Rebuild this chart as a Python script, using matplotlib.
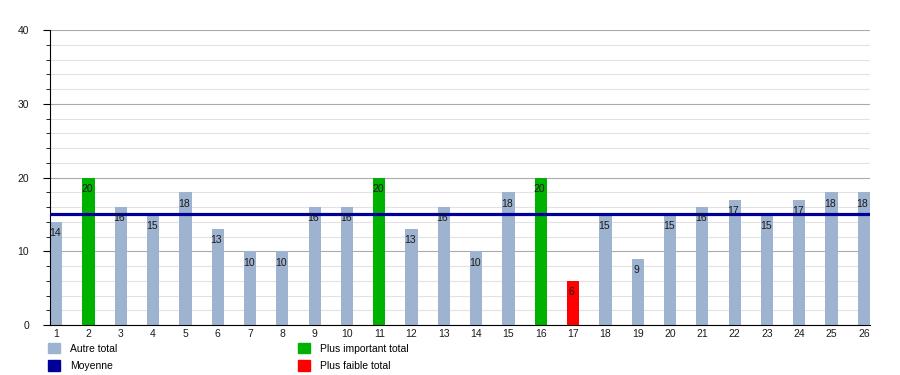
import matplotlib.pyplot as plt
from matplotlib.patches import Patch
from matplotlib.ticker import MultipleLocator

plt.rcParams['font.family'] = ['Liberation Sans', 'DejaVu Sans']

# valeurs par numéro
numeros = list(range(1, 27))
totaux = [14, 20, 16, 15, 18, 13, 10, 10, 16, 16, 20, 13, 16, 10, 18, 20, 6,
          15, 9, 15, 16, 17, 15, 17, 18, 18]
moyenne = sum(totaux) / len(totaux)

GRIS = "#9db3cf"
VERT = "#00b200"
ROUGE = "#ff0000"
BLEU = "#000099"

maxi = max(totaux)
mini = min(totaux)
couleurs = []
for v in totaux:
    if v == maxi:
        couleurs.append(VERT)
    elif v == mini:
        couleurs.append(ROUGE)
    else:
        couleurs.append(GRIS)

fig = plt.figure(figsize=(9, 3.75), dpi=100)
ax = fig.add_axes([0.0556, 0.1333, 0.9111, 0.7867])

ax.bar(numeros, totaux, width=0.38, color=couleurs, zorder=2)
ax.axhline(moyenne, color=BLEU, lw=2.3, zorder=3)

for x, v in zip(numeros, totaux):
    ax.annotate(str(v), (x, v), xytext=(-1, -4.5), textcoords="offset points",
                ha="center", va="top", fontsize=7.5, color="#1a1a1a", zorder=4)

ax.set_xlim(0.81, 26.19)
ax.set_ylim(0, 40)
ax.set_xticks(numeros)
ax.yaxis.set_major_locator(MultipleLocator(10))
ax.yaxis.set_minor_locator(MultipleLocator(2))
ax.grid(axis="y", which="major", color="#aaaaaa", lw=0.8, zorder=0)
ax.grid(axis="y", which="minor", color="#e2e2e2", lw=0.8, zorder=0)
ax.tick_params(axis="x", length=0, labelsize=7.5, pad=3, labelcolor="#1a1a1a")
ax.tick_params(axis="y", which="major", length=5, labelsize=7.5, pad=10,
               labelcolor="#1a1a1a")
ax.tick_params(axis="y", which="minor", length=3)
for s in ["top", "right"]:
    ax.spines[s].set_visible(False)
ax.spines["left"].set_color("black")
ax.spines["bottom"].set_color("black")

handles = [Patch(color=GRIS, label="Autre total"),
           Patch(color=BLEU, label="Moyenne"),
           Patch(color=VERT, label="Plus important total"),
           Patch(color=ROUGE, label="Plus faible total")]
fig.legend(handles=handles, ncol=2, loc="upper left", bbox_to_anchor=(0.053, 0.086),
           frameon=False, fontsize=7.5, handlelength=1.2, handleheight=1.2,
           handletextpad=0.95, columnspacing=17.3, labelspacing=0.6,
           borderaxespad=0, borderpad=0)

fig.savefig("out.png")
